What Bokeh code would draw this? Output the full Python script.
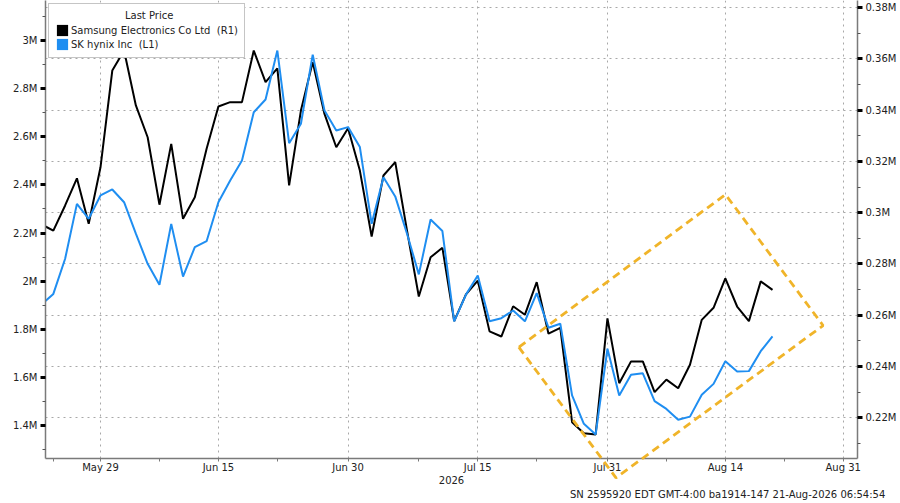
from bokeh.plotting import figure
from bokeh.models import (Range1d, LinearAxis, FixedTicker, CustomJSTickFormatter,
                          Legend, LegendItem, Title, ColumnDataSource)
from bokeh.embed import file_html
from bokeh.resources import INLINE

FONT = "DejaVu Sans"
BLUE = "#1f8ef1"
GOLD = "#f0b429"
TXT = "#222222"

# trading-day index (0 = May 29, 2026)
day_index = list(range(-5, 58))

# Samsung Electronics Co Ltd, KRW (right axis)
samsung = [295400, 293000, 302800, 313400, 295700, 317700, 355400, 363200, 341800, 329400,
           303100, 326800, 297600, 306000, 324900, 341400, 343100, 343100, 363200, 350900,
           356300, 310600, 339800, 358700, 338500, 325500, 332900, 316400, 290700, 314500,
           319700, 293000, 267300, 282600, 286300, 257700, 268100, 273500, 253700, 251700,
           263500, 260200, 272900, 252800, 255100, 218300, 214000, 213500, 258800, 233500,
           242000, 242000, 230000, 234900, 231500, 240700, 258200, 262900, 274400, 263400,
           257700, 273200, 269900]

# SK hynix Inc, KRW (left axis)
hynix = [1903000, 1947000, 2093000, 2321000, 2259000, 2356000, 2381000, 2328000, 2197000, 2072000,
         1985000, 2238000, 2019000, 2141000, 2166000, 2328000, 2418000, 2501000, 2702000, 2755000,
         2958000, 2573000, 2654000, 2941000, 2709000, 2626000, 2640000, 2557000, 2238000, 2432000,
         2352000, 2197000, 2028000, 2256000, 2208000, 1833000, 1944000, 2023000, 1833000, 1846000,
         1878000, 1833000, 1950000, 1806000, 1823000, 1525000, 1407000, 1363000, 1719000, 1525000,
         1611000, 1617000, 1501000, 1469000, 1424000, 1437000, 1528000, 1573000, 1667000, 1624000,
         1626000, 1709000, 1770000]

# x-axis ticks (trading-day index) and labels
x_ticks = [0, 10, 21, 32, 43, 53, 63]
x_labels = ["May 29", "Jun 15", "Jun 30", "Jul 15", "Jul 31", "Aug 14", "Aug 31"]
x_minor = [-4, 5, 15, 27, 37, 48, 58]

right_ticks = [220000, 240000, 260000, 280000, 300000, 320000, 340000, 360000, 380000]
right_minor = [210000, 230000, 250000, 270000, 290000, 310000, 330000, 350000, 370000]
left_ticks = [1400000, 1600000, 1800000, 2000000, 2200000, 2400000, 2600000, 2800000, 3000000]
left_minor = [1300000, 1500000, 1700000, 1900000, 2100000, 2300000, 2500000, 2700000, 2900000, 3100000]

# highlight box corners (trading-day index, Samsung KRW), closed
box_x = [35.48, 43.73, 61.29, 53.01, 35.48]
box_y = [247530, 196600, 255990, 307080, 247530]

series_names = ["Samsung Electronics Co Ltd  (R1)", "SK hynix Inc  (L1)"]
legend_title = "Last Price"
footer = "SN 2595920 EDT  GMT-4:00 ba1914-147 21-Aug-2026 06:54:54"

p = figure(width=900, height=503,
           x_range=Range1d(-4.665, 64.21), y_range=Range1d(204130, 382730),
           y_axis_location="right", output_backend="svg", toolbar_location=None,
           min_border_left=45, min_border_right=43, min_border_top=0, min_border_bottom=45)
p.outline_line_color = None
p.background_fill_color = "white"
p.border_fill_color = "white"
p.extra_y_ranges = {"hynix": Range1d(1262900, 3166200)}

# right axis (Samsung)
ra = p.yaxis[0]
rt = FixedTicker(ticks=right_ticks, minor_ticks=right_minor)
ra.ticker = rt
ra.formatter = CustomJSTickFormatter(code="return (Math.round(tick/1e4)/100) + 'M'")

# left axis (SK hynix)
lt = FixedTicker(ticks=left_ticks, minor_ticks=left_minor)
la = LinearAxis(y_range_name="hynix", ticker=lt,
                formatter=CustomJSTickFormatter(code="return (Math.round(tick/1e5)/10) + 'M'"))
p.add_layout(la, "left")

for ax in (ra, la):
    ax.axis_line_color = "#7a7a7a"
    ax.axis_line_width = 1.5
    ax.major_tick_out = 5
    ax.major_tick_in = 0
    ax.major_tick_line_width = 3
    ax.major_tick_line_color = "black"
    ax.minor_tick_out = 3
    ax.minor_tick_in = 0
    ax.minor_tick_line_color = "#555555"
    ax.major_label_standoff = 3
    ax.major_label_text_font = FONT
    ax.major_label_text_font_size = "10px"
    ax.major_label_text_color = TXT

xa = p.xaxis[0]
xt = FixedTicker(ticks=x_ticks, minor_ticks=x_minor)
xa.ticker = xt
xa.major_label_overrides = {t: l for t, l in zip(x_ticks, x_labels)}
xa.axis_line_color = "#7a7a7a"
xa.axis_line_width = 1.5
xa.major_tick_out = 3
xa.major_tick_in = 0
xa.major_tick_line_color = "#7a7a7a"
xa.minor_tick_out = 3
xa.minor_tick_in = 0
xa.minor_tick_line_color = "#7a7a7a"
xa.major_label_standoff = 0
xa.major_label_text_font = FONT
xa.major_label_text_font_size = "10px"
xa.major_label_text_color = TXT
xa.axis_label = "2026"
xa.axis_label_standoff = 0
xa.axis_label_text_font = FONT
xa.axis_label_text_font_size = "10px"
xa.axis_label_text_font_style = "normal"
xa.axis_label_text_color = TXT

for g, t in ((p.xgrid[0], xt), (p.ygrid[0], rt)):
    g.ticker = t
    g.grid_line_color = "#a8a8a8"
    g.grid_line_dash = "2 4"
    g.grid_line_width = 1

src = ColumnDataSource(dict(x=day_index, samsung=samsung, hynix=hynix))
p.line("x", "samsung", source=src, line_color="black", line_width=2)
p.line("x", "hynix", source=src, y_range_name="hynix", line_color=BLUE, line_width=2)

# dashed highlight box (overlay level so it may extend past the frame)
p.line(box_x, box_y, line_color=GOLD, line_width=2.8, line_dash="8 5", level="overlay")

# zero-area swatches (at the first data point) used only for the legend squares
q_s = p.quad(left=day_index[:1], right=day_index[:1], top=samsung[:1], bottom=samsung[:1],
             fill_color="black", line_color=None)
q_h = p.quad(left=day_index[:1], right=day_index[:1], top=hynix[:1], bottom=hynix[:1],
             y_range_name="hynix", fill_color=BLUE, line_color=None)

title_pad = "\u00a0" * 22
legend = Legend(items=[LegendItem(label=series_names[0], renderers=[q_s]),
                       LegendItem(label=series_names[1], renderers=[q_h])],
                location="top_left", margin=3, padding=6, spacing=0,
                glyph_width=14, glyph_height=14, label_height=14, label_standoff=2,
                title=title_pad + legend_title, title_standoff=2,
                title_text_font=FONT, title_text_font_size="10px",
                title_text_font_style="normal", title_text_color=TXT,
                label_text_font=FONT, label_text_font_size="10px", label_text_color=TXT,
                border_line_color="#8c8c8c", border_line_width=1.5,
                background_fill_color="white", background_fill_alpha=1)
p.add_layout(legend)

foot = Title(text=footer, align="right", offset=-31, standoff=0,
             text_font=FONT, text_font_size="10px", text_font_style="normal",
             text_color=TXT)
p.add_layout(foot, "below")

open("out.html", "w").write(file_html(p, INLINE))
